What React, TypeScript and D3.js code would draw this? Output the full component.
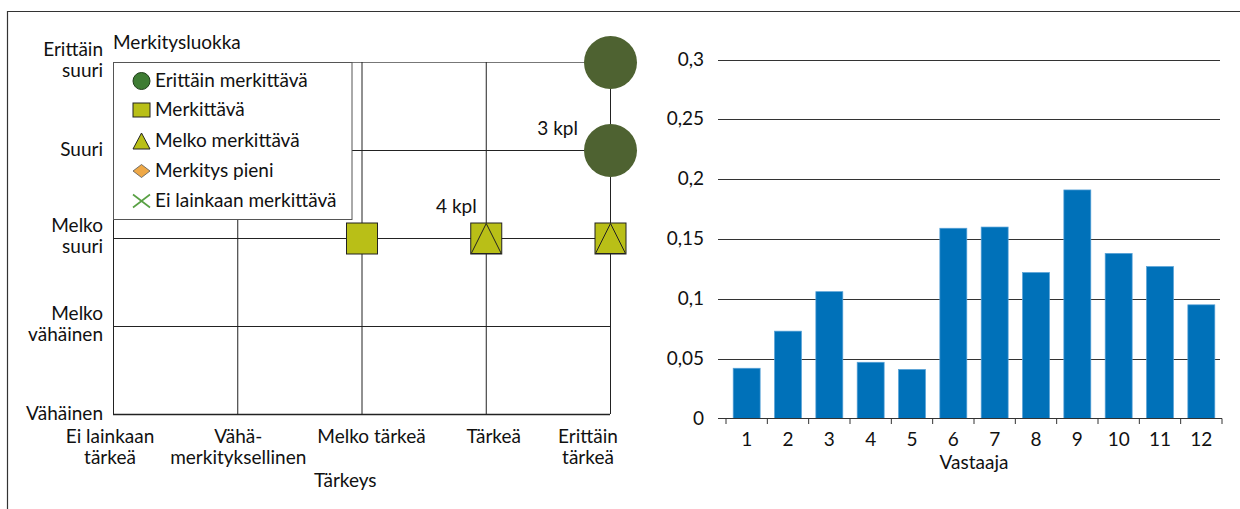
import React from "react";
import * as d3 from "d3";

// Importance (x) and significance (y) categories of the matrix chart
const importanceLevels = ["Ei lainkaan tärkeä", "Vähä-merkityksellinen", "Melko tärkeä", "Tärkeä", "Erittäin tärkeä"];
const importanceLabels = [["Ei lainkaan", "tärkeä"], ["Vähä-", "merkityksellinen"], ["Melko tärkeä"], ["Tärkeä"], ["Erittäin", "tärkeä"]];
const significanceLevels = ["Vähäinen", "Melko vähäinen", "Melko suuri", "Suuri", "Erittäin suuri"];
const significanceLabels = [["Vähäinen"], ["Melko", "vähäinen"], ["Melko", "suuri"], ["Suuri"], ["Erittäin", "suuri"]];

// Legend classes
const classNames = ["Erittäin merkittävä", "Merkittävä", "Melko merkittävä", "Merkitys pieni", "Ei lainkaan merkittävä"];

// Plotted points: [importance, significance, class]
const points: [string, string, string][] = [
  ["Erittäin tärkeä", "Erittäin suuri", "Erittäin merkittävä"],
  ["Erittäin tärkeä", "Suuri", "Erittäin merkittävä"],
  ["Melko tärkeä", "Melko suuri", "Merkittävä"],
  ["Tärkeä", "Melko suuri", "Merkittävä"],
  ["Tärkeä", "Melko suuri", "Melko merkittävä"],
  ["Erittäin tärkeä", "Melko suuri", "Merkittävä"],
  ["Erittäin tärkeä", "Melko suuri", "Melko merkittävä"],
];

// Count annotations: [importance, significance, text]
const countNotes: [string, string, string][] = [
  ["Erittäin tärkeä", "Suuri", "3 kpl"],
  ["Tärkeä", "Melko suuri", "4 kpl"],
];

// Bar chart: weight per respondent
const respondents = ["1", "2", "3", "4", "5", "6", "7", "8", "9", "10", "11", "12"];
const weights = [0.042, 0.073, 0.106, 0.047, 0.041, 0.159, 0.16, 0.122, 0.191, 0.138, 0.127, 0.095];
const weightTicks = [0, 0.05, 0.1, 0.15, 0.2, 0.25, 0.3];

const FONT = "Lato, 'Open Sans', sans-serif";
const FS = 19;
const GREEN_DARK = "#4e6231";
const GREEN_LEG = "#3e7c33";
const YELLOW = "#b9bf17";
const ORANGE = "#eea847";
const XGREEN = "#58a043";
const BLUE = "#0071b9";

function Marker({ cls, x, y, big }: { cls: string; x: number; y: number; big: boolean }) {
  if (cls === "Erittäin merkittävä") {
    return big ? (
      <circle cx={x} cy={y} r={26.5} fill={GREEN_DARK} />
    ) : (
      <circle cx={x} cy={y} r={8.5} fill={GREEN_LEG} stroke="#1f3d18" strokeWidth={1} />
    );
  }
  if (cls === "Merkittävä") {
    const w = big ? 31 : 17;
    const h = big ? 31 : 14;
    return <rect x={x - w / 2} y={y - h / 2} width={w} height={h} fill={YELLOW} stroke="#222" strokeWidth={1} />;
  }
  if (cls === "Melko merkittävä") {
    const w = big ? 30 : 17;
    const h = big ? 30 : 16;
    const p = d3.path();
    p.moveTo(x, y - h / 2);
    p.lineTo(x + w / 2, y + h / 2);
    p.lineTo(x - w / 2, y + h / 2);
    p.closePath();
    return <path d={p.toString()} fill={YELLOW} stroke="#222" strokeWidth={1} />;
  }
  if (cls === "Merkitys pieni") {
    const w = 17, h = 13;
    return (
      <path
        d={`M${x - w / 2},${y}L${x},${y - h / 2}L${x + w / 2},${y}L${x},${y + h / 2}Z`}
        fill={ORANGE}
        stroke="#555"
        strokeWidth={0.8}
      />
    );
  }
  const w = 17, h = 13;
  return (
    <g stroke={XGREEN} strokeWidth={1.6}>
      <line x1={x - w / 2} y1={y - h / 2} x2={x + w / 2} y2={y + h / 2} />
      <line x1={x - w / 2} y1={y + h / 2} x2={x + w / 2} y2={y - h / 2} />
    </g>
  );
}

export default function App() {
  // Matrix chart scales
  const xm = d3.scalePoint<string>().domain(importanceLevels).range([113, 610]);
  const ym = d3.scalePoint<string>().domain(significanceLevels).range([414, 62]);
  const xLabelNudge = [-3, 1, 10, 8, -22];

  // Bar chart scales
  const xb = d3.scaleBand<string>().domain(respondents).range([726, 1222]).paddingInner(0.347).paddingOuter(0.1735);
  const yb = d3.scaleLinear().domain([0, 0.3]).range([418.5, 59.5]);
  const tickFmt = (v: number) => (v === 0 ? "0" : d3.format("~g")(v).replace(".", ","));

  const legendX = 113, legendY = 62, legendW = 238.5, legendH = 157;
  const legendRows = [81, 110, 141, 171, 201];

  return (
    <svg
      width={1240}
      height={509}
      style={{ position: "absolute", left: 0, top: 0, background: "#fff" }}
      fontFamily={FONT}
      fontSize={FS}
    >
      <rect width={1240} height={509} fill="#fff" />
      {/* outer frame */}
      <path d="M7.5,520V11.5H1245" fill="none" stroke="#333" strokeWidth={1.2} />

      {/* ---------- Matrix chart ---------- */}
      <g>
        {significanceLevels.map((s, i) => (
          <line
            key={"h" + s}
            x1={xm(importanceLevels[0])}
            x2={xm(importanceLevels[4])}
            y1={ym(s)! + 0.5}
            y2={ym(s)! + 0.5}
            stroke={i === 4 ? "#777" : "#222"}
            strokeWidth={i === 0 ? 1.5 : 1}
          />
        ))}
        {importanceLevels.map((c) => (
          <line
            key={"v" + c}
            x1={xm(c)! + 0.5}
            x2={xm(c)! + 0.5}
            y1={ym(significanceLevels[4])}
            y2={ym(significanceLevels[0])}
            stroke="#222"
            strokeWidth={1}
          />
        ))}

        {/* y labels */}
        {significanceLevels.map((s, i) => {
          const lines = significanceLabels[i];
          const y = ym(s)!;
          return (
            <text key={"yl" + s} x={103} textAnchor="end" fill="#111">
              {lines.length === 1 ? (
                <tspan x={103} y={y + 6}>{lines[0]}</tspan>
              ) : (
                lines.map((t, j) => (
                  <tspan key={j} x={103} y={y - 6 + j * 21}>{t}</tspan>
                ))
              )}
            </text>
          );
        })}

        {/* x labels */}
        {importanceLevels.map((c, i) => {
          const x = xm(c)! + xLabelNudge[i];
          return (
            <text key={"xl" + c} textAnchor="middle" fill="#111">
              {importanceLabels[i].map((t, j) => (
                <tspan key={j} x={x} y={443 + j * 21}>{t}</tspan>
              ))}
            </text>
          );
        })}
        <text x={314} y={487} fill="#111">Tärkeys</text>

        {/* points */}
        {points.map(([c, s, cls], i) => (
          <Marker key={"p" + i} cls={cls} x={xm(c)! + 0.5} y={ym(s)! + 0.5} big={true} />
        ))}

        {/* count notes */}
        {countNotes.map(([c, s, t], i) => {
          const isCircle = s === "Suuri";
          const x = xm(c)! + (isCircle ? -32 : -9);
          const y = ym(s)! + (isCircle ? -15 : -25);
          return (
            <text key={"n" + i} x={x} y={y} textAnchor="end" fill="#111">{t}</text>
          );
        })}

        {/* legend */}
        <text x={113} y={49} fill="#111">Merkitysluokka</text>
        <rect x={legendX + 0.5} y={legendY + 0.5} width={legendW} height={legendH} fill="#fff" stroke="#555" strokeWidth={1} />
        {classNames.map((cls, i) => (
          <g key={"lg" + cls}>
            <Marker cls={cls} x={141.5} y={legendRows[i]} big={false} />
            <text x={155} y={legendRows[i] + 6} fill="#111">{cls}</text>
          </g>
        ))}
      </g>

      {/* ---------- Bar chart ---------- */}
      <g>
        {weightTicks.map((t) => (
          <g key={"t" + t}>
            {t > 0 && (
              <line x1={718} x2={1220} y1={Math.round(yb(t)) + 0.5} y2={Math.round(yb(t)) + 0.5} stroke="#333" strokeWidth={1} />
            )}
            <text x={704} y={yb(t) + 6} textAnchor="end" fill="#111">{tickFmt(t)}</text>
          </g>
        ))}
        {respondents.map((r, i) => (
          <rect
            key={"b" + r}
            x={xb(r)}
            y={yb(weights[i])}
            width={xb.bandwidth()}
            height={yb(0) - yb(weights[i])}
            fill={BLUE}
            stroke="#5aa3d8"
            strokeWidth={0.7}
          />
        ))}
        <line x1={718} x2={1222} y1={418.5} y2={418.5} stroke="#333" strokeWidth={1} />
        {respondents.concat(["end"]).map((r, i) => {
          const x = 726 + i * xb.step();
          return <line key={"tk" + i} x1={x} x2={x} y1={418.5} y2={424} stroke="#333" strokeWidth={1} />;
        })}
        {respondents.map((r) => (
          <text key={"xt" + r} x={xb(r)! + xb.bandwidth() / 2} y={446} textAnchor="middle" fill="#111">{r}</text>
        ))}
        <text x={(726 + 1222) / 2} y={469} textAnchor="middle" fill="#111">Vastaaja</text>
      </g>
    </svg>
  );
}
